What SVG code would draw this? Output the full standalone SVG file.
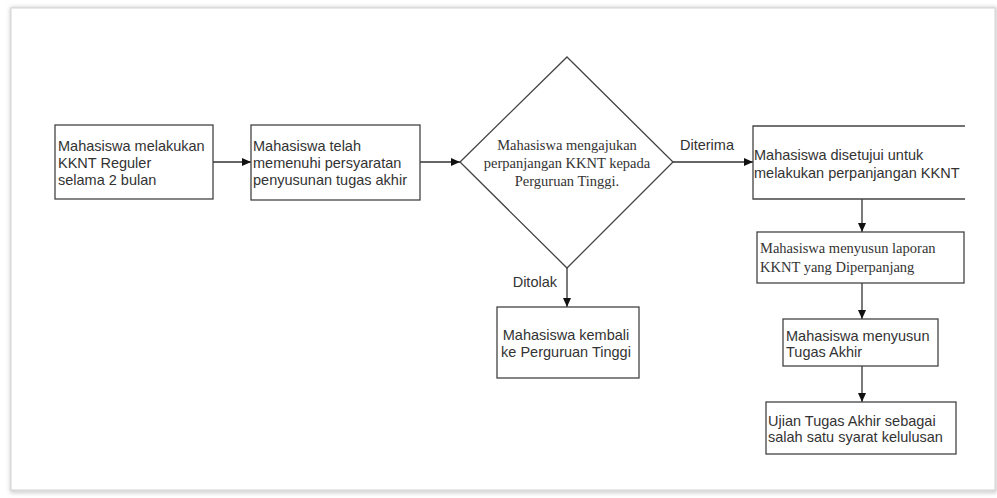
<svg xmlns="http://www.w3.org/2000/svg" width="997" height="498" viewBox="0 0 997 498">
<style>
.box{fill:#fff;stroke:#444;stroke-width:1.3}
.open{fill:none;stroke:#444;stroke-width:1.3}
.t{font-family:"Liberation Sans",Arial,sans-serif;font-size:14.5px;fill:#333}
.s{font-family:"Liberation Serif","Times New Roman",serif;font-size:14.5px;fill:#333}
.c{stroke:#333;stroke-width:1.3;fill:none;marker-end:url(#ah)}
</style>
<defs>
<marker id="ah" markerWidth="10" markerHeight="8" refX="9" refY="4" orient="auto" markerUnits="userSpaceOnUse">
<path d="M0,0 L9,4 L0,8 Z" fill="#111"/>
</marker>
<filter id="sh" x="-5%" y="-5%" width="110%" height="110%">
<feGaussianBlur stdDeviation="2"/>
</filter>
</defs>
<rect width="997" height="498" fill="#fff"/>
<g id="frame">
<rect x="12" y="9" width="983" height="482" fill="none" stroke="#bbb" stroke-width="3" filter="url(#sh)"/>
<rect x="11" y="8" width="984" height="482" fill="#fff" stroke="#d4d4d4" stroke-width="1"/>
</g>
<g id="connectors">
<line class="c" x1="213" y1="162" x2="251" y2="162"/>
<line class="c" x1="420" y1="162" x2="460" y2="162"/>
<line class="c" x1="673" y1="162" x2="753" y2="162"/>
<line class="c" x1="567" y1="268" x2="567" y2="307"/>
<line class="c" x1="862" y1="199" x2="862" y2="232"/>
<line class="c" x1="862" y1="283" x2="862" y2="319"/>
<line class="c" x1="862" y1="366" x2="862" y2="402"/>
<text class="t" x="680" y="150">Diterima</text>
<text class="t" x="557" y="287" text-anchor="end">Ditolak</text>
</g>
<g id="n1">
<rect class="box" x="55" y="125" width="158" height="74"/>
<text class="t" x="58" y="151">Mahasiswa melakukan</text>
<text class="t" x="58" y="168">KKNT Reguler</text>
<text class="t" x="58" y="185">selama 2 bulan</text>
</g>
<g id="n2">
<rect class="box" x="251" y="125" width="169" height="75"/>
<text class="t" x="253" y="151">Mahasiswa telah</text>
<text class="t" x="253" y="168">memenuhi persyaratan</text>
<text class="t" x="253" y="185">penyusunan tugas akhir</text>
</g>
<g id="n3">
<polygon class="box" points="567,57 673,162 567,268 460,162"/>
<text class="s" x="567" y="150" text-anchor="middle">Mahasiswa mengajukan</text>
<text class="s" x="567" y="168" text-anchor="middle">perpanjangan KKNT kepada</text>
<text class="s" x="567" y="186" text-anchor="middle">Perguruan Tinggi.</text>
</g>
<g id="n4">
<path class="open" d="M965,126 H753 V199 H965"/>
<text class="t" x="754" y="160">Mahasiswa disetujui untuk</text>
<text class="t" x="754" y="178">melakukan perpanjangan KKNT</text>
</g>
<g id="n5">
<rect class="box" x="757" y="232" width="207" height="51"/>
<text class="s" x="760" y="253">Mahasiswa menyusun laporan</text>
<text class="s" x="760" y="272">KKNT yang Diperpanjang</text>
</g>
<g id="n6">
<rect class="box" x="497" y="307" width="142" height="71"/>
<text class="t" x="566" y="340" text-anchor="middle">Mahasiswa kembali</text>
<text class="t" x="566" y="357" text-anchor="middle">ke Perguruan Tinggi</text>
</g>
<g id="n7">
<rect class="box" x="783" y="319" width="155" height="47"/>
<text class="t" x="786" y="341">Mahasiswa menyusun</text>
<text class="t" x="786" y="357">Tugas Akhir</text>
</g>
<g id="n8">
<rect class="box" x="766" y="402" width="190" height="52"/>
<text class="t" x="768" y="426">Ujian Tugas Akhir sebagai</text>
<text class="t" x="768" y="442">salah satu syarat kelulusan</text>
</g>
</svg>
